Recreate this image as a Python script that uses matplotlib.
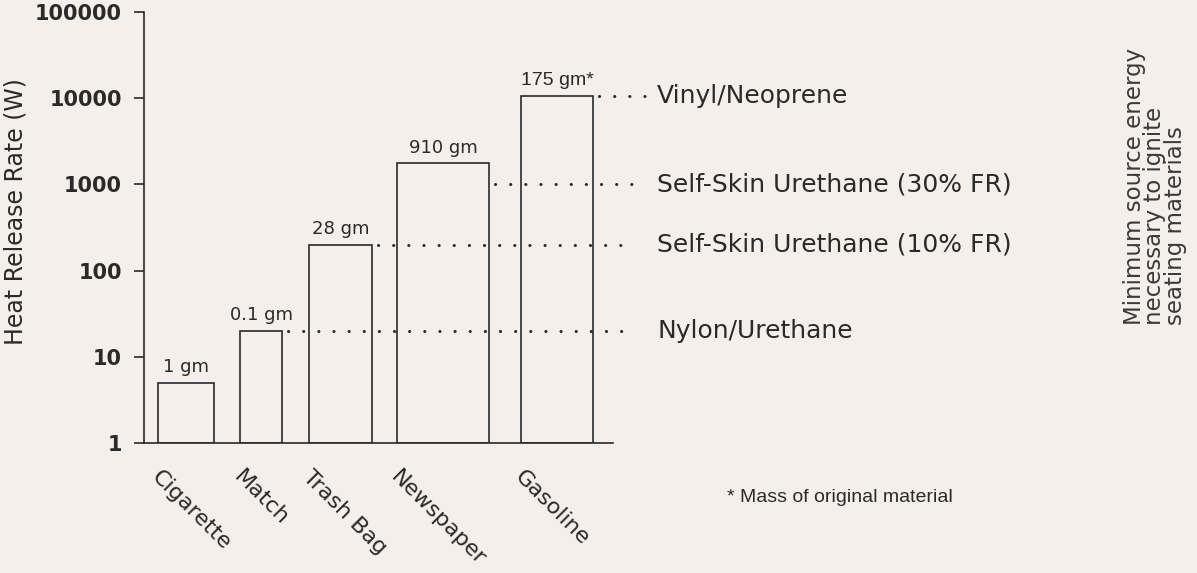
import matplotlib.pyplot as plt
import numpy as np

#%% Data
sources = ['Cigarette', 'Match', 'Trash Bag', 'Newspaper', 'Gasoline']
heat_release = [5, 20, 200, 1750, 10500]
mass_labels = ['1 gm', '0.1 gm', '28 gm', '910 gm', '175 gm*']

materials = ['Nylon/Urethane', 'Self-Skin Urethane (10% FR)',
             'Self-Skin Urethane (30% FR)', 'Vinyl/Neoprene']
ignition_level = [20, 200, 1000, 10500]
# index of the bar each dotted line starts from
start_bar = [1, 2, 3, 4]

y_ticks = [1, 10, 100, 1000, 10000, 100000]

#%% Layout (pixel-like units along x, measured from the y axis)
bar_left = [14, 96, 165, 253, 377]
bar_width = [56, 42, 63, 92, 72]
line_end = [489, 489, 489, 501]
text_x = 513

bg = '#f4efeb'
ink = '#2a2a2a'

plt.rcParams['lines.scale_dashes'] = False

fig = plt.figure(figsize=(11.97, 5.73), dpi=100, facecolor=bg)
ax = fig.add_axes([144/1197, 130/573, 469/1197, 431/573], facecolor=bg)

ax.set_yscale('log')
ax.set_ylim(1, 100000)
ax.set_xlim(0, 469)

# bars start at 1 (bottom of the log axis)
ax.bar(bar_left, np.array(heat_release) - 1, width=bar_width, bottom=1, align='edge',
       facecolor='none', edgecolor=ink, linewidth=1.2, zorder=2)

# mass labels above bars
for i in range(len(sources)):
    if i == 4:
        fam, fs = 'Liberation Sans', 14
    else:
        fam, fs = 'DejaVu Sans', 13
    ax.annotate(mass_labels[i], (bar_left[i] + bar_width[i]/2, heat_release[i]),
                xytext=(0, 5), textcoords='offset points', ha='center', va='bottom',
                fontsize=fs, family=fam, color=ink)

# dotted ignition lines and material labels
for i in range(len(materials)):
    b = start_bar[i]
    x0 = bar_left[b] + bar_width[b] + 6
    ax.plot([x0, line_end[i]], [ignition_level[i], ignition_level[i]],
            linestyle=(0, (0.1, 10.8)), linewidth=2.2, dash_capstyle='round',
            color=ink, clip_on=False, zorder=3)
    ax.text(text_x, ignition_level[i], materials[i], va='center', ha='left',
            fontsize=18, family='DejaVu Sans', color=ink, clip_on=False)

# axes styling
for s in ['top', 'right']:
    ax.spines[s].set_visible(False)
ax.spines['left'].set_color(ink)
ax.spines['bottom'].set_color(ink)
ax.spines['left'].set_linewidth(1.2)
ax.spines['bottom'].set_linewidth(1.2)

ax.set_yticks(y_ticks)
ax.set_yticklabels([str(v) for v in y_ticks], fontsize=15, fontweight='bold',
                   family='DejaVu Sans', color=ink)
ax.yaxis.set_minor_locator(plt.NullLocator())
ax.tick_params(axis='y', direction='out', length=7, width=1.2, pad=9, color=ink)

ax.set_xticks([l + 4 for l in bar_left])
ax.set_xticklabels(sources, rotation=-45, ha='left', va='top', rotation_mode='anchor',
                   fontsize=16, family='DejaVu Sans', color=ink)
ax.tick_params(axis='x', length=0, pad=17)

ax.set_ylabel('Heat Release Rate (W)', fontsize=17, family='DejaVu Sans', color=ink)
ax.yaxis.set_label_coords(-0.249, 0.536)

fig.text(1155/1197, 1 - 186/573,
         'Minimum source energy\nnecessary to ignite\nseating materials',
         rotation=90, ha='center', va='center', multialignment='left',
         fontsize=16.5, family='DejaVu Sans', color='#3a3a3a', linespacing=0.85)

fig.text(727/1197, 1 - 497/573, '* Mass of original material', ha='left',
         va='center', fontsize=14, family='Liberation Sans', color=ink)

fig.savefig('out.png', dpi=100, facecolor=bg)
